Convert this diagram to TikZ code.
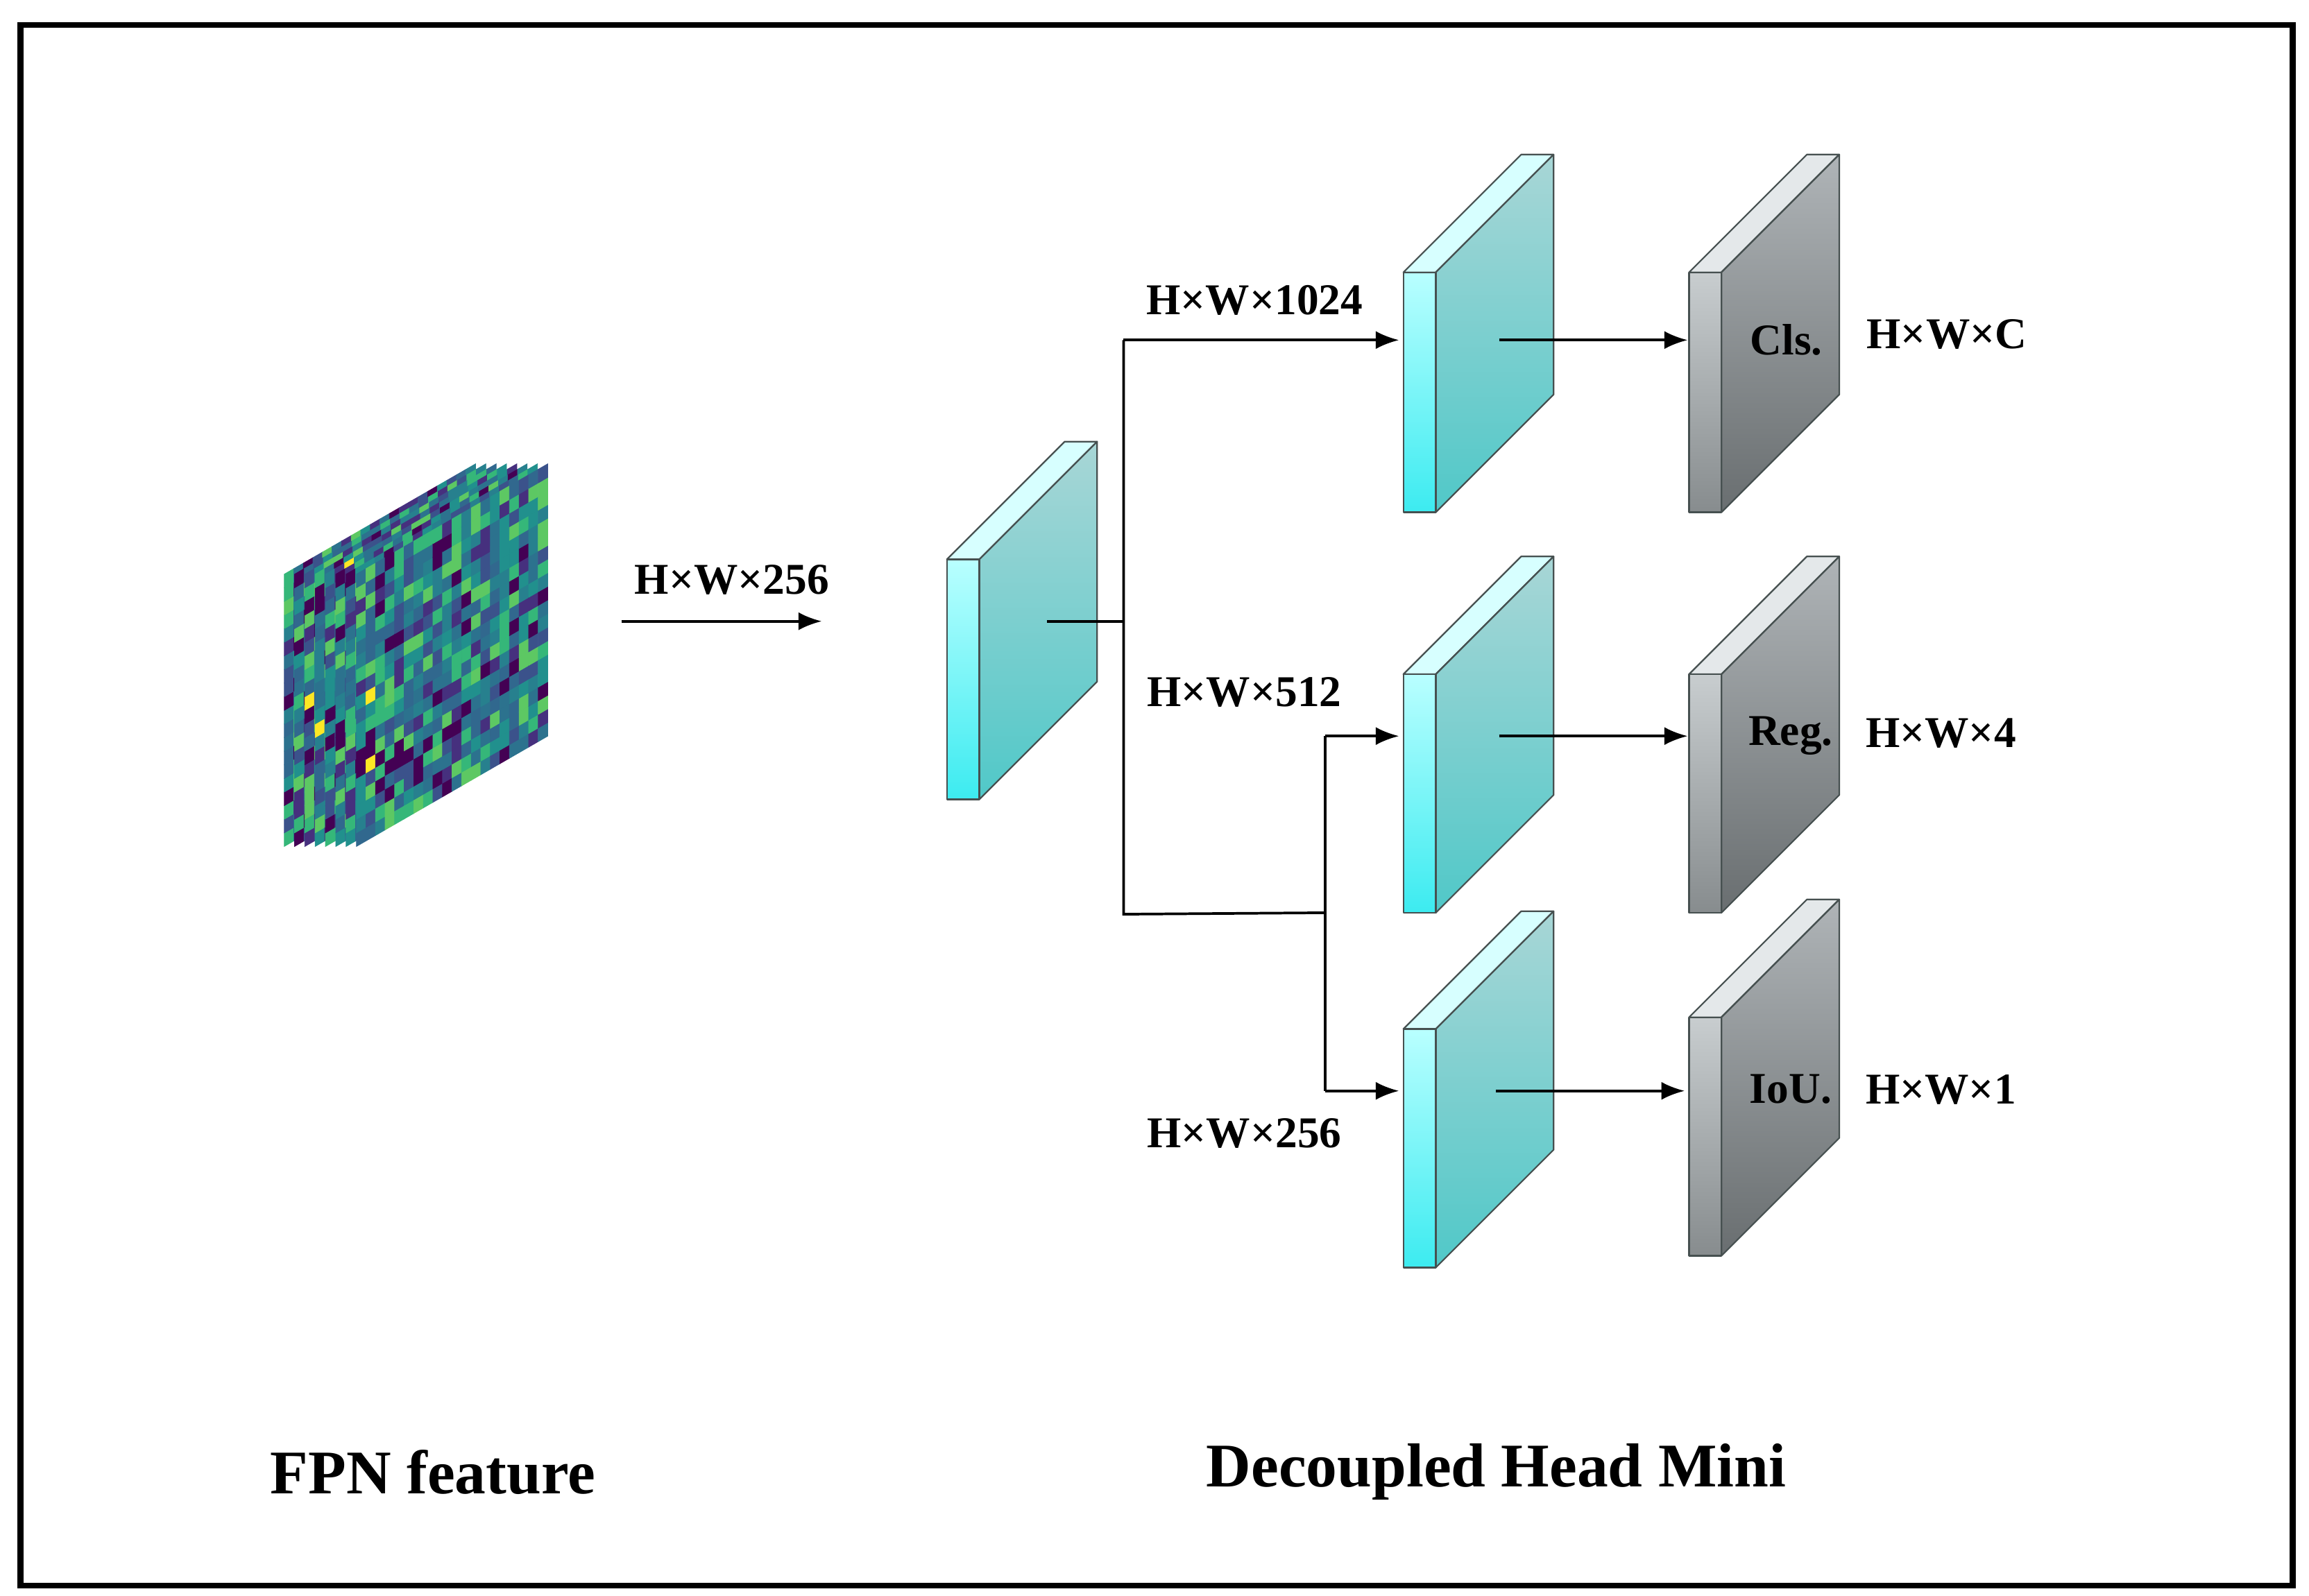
\documentclass[tikz,border=0pt]{standalone}
\usepackage{fontspec}
\setmainfont{Liberation Serif}
\usetikzlibrary{arrows.meta}
\definecolor{vc0}{HTML}{440154}\definecolor{vc1}{HTML}{46307E}
\definecolor{vc2}{HTML}{3B528B}\definecolor{vc3}{HTML}{31688E}
\definecolor{vc4}{HTML}{2C728E}\definecolor{vc5}{HTML}{21908D}
\definecolor{vc6}{HTML}{27808E}\definecolor{vc7}{HTML}{35B779}
\definecolor{vc8}{HTML}{5DC863}\definecolor{vc9}{HTML}{FDE725}
\tikzset{
 lab/.style={font=\fontsize{17}{20}\selectfont\bfseries, inner sep=0pt},
 big/.style={font=\fontsize{24}{28}\selectfont\bfseries, inner sep=0pt},
 con/.style={line width=1pt},
 arr/.style={con,-{Latex[length=9pt,width=7pt]}},
 cytop/.style={fill={rgb,255:red,215;green,255;blue,255}},
 cyside/.style={top color={rgb,255:red,168;green,214;blue,214},bottom color={rgb,255:red,80;green,200;blue,200}},
 cyfront/.style={top color={rgb,255:red,185;green,255;blue,255},bottom color={rgb,255:red,60;green,235;blue,240}},
 gytop/.style={fill={rgb,255:red,228;green,232;blue,234}},
 gyside/.style={top color={rgb,255:red,175;green,180;blue,183},bottom color={rgb,255:red,105;green,110;blue,112}},
 gyfront/.style={top color={rgb,255:red,200;green,205;blue,207},bottom color={rgb,255:red,135;green,140;blue,142}},
 edge/.style={draw={rgb,255:red,70;green,80;blue,80},line width=0.6pt,line join=round}
}
\newcommand\plate[5]{%
 \path[#5top,edge] (#2,#3) -- ++(80,-80) -- ++(22,0) -- ++(-80,80) -- cycle;
 \shade[#5side] (#2+22,#3) -- ++(80,-80) -- (#2+102,#4-80) -- (#2+22,#4) -- cycle;
 \draw[edge] (#2+22,#3) -- ++(80,-80) -- (#2+102,#4-80) -- (#2+22,#4) -- cycle;
 \shade[#5front] (#2,#3) rectangle (#2+22,#4);
 \draw[edge] (#2,#3) rectangle (#2+22,#4);
 \coordinate (#1) at (#2+11,{(#3+#4)/2});
}
\begin{document}
\begin{tikzpicture}[x=0.02cm,y=-0.02cm]
\useasboundingbox (0,0) rectangle (1568,1084);
\draw[line width=0.08cm] (14,17) rectangle (1557,1077);
% FPN feature stack
\pgfmathsetseed{7}
\foreach \k in {0,...,7}{
 \pgfmathsetmacro\xo{193+7*\k}
 \begin{scope}[shift={(\xo,575)}, x={(2.6cm,1.5cm)}, y={(0cm,3.7cm)}]
 \foreach \i in {0,...,19}{\foreach \j in {0,...,19}{
   \pgfmathrandominteger{\r}{0}{9}
   \ifnum\r=9 \pgfmathrandominteger{\r}{0}{9}\fi
   \path[fill=vc\r,draw=vc\r,line width=0.2pt] (\i/20,\j/20) -- ++(0.05,0) -- ++(0,0.05) -- ++(-0.05,0) -- cycle;
 }}
 \end{scope}
}
\coordinate (fa) at (422,422); \coordinate (fb) at (558,422);
\draw[arr] (fa) -- (fb);
\node[lab] (l0) at (497,394) {H×W×256};
% plates
\plate{m}{643}{380}{543}{cy}
\plate{c1}{953}{185}{348}{cy}
\plate{c2}{953}{458}{620}{cy}
\plate{c3}{953}{699}{861}{cy}
\plate{g1}{1147}{185}{348}{gy}
\plate{g2}{1147}{458}{620}{gy}
\plate{g3}{1147}{691}{853}{gy}
% connectors
\coordinate (mo) at (711,422); \coordinate (s) at (763,422);
\coordinate (st) at (763,231); \coordinate (sb) at (763,621);
\coordinate (b) at (900,620); \coordinate (bt) at (900,500); \coordinate (bb) at (900,741);
\coordinate (i1) at (950,231); \coordinate (i2) at (950,500); \coordinate (i3) at (950,741);
\draw[con] (mo) -- (s);
\draw[con] (st) -- (sb) -- (b);
\draw[arr] (st) -- (i1);
\draw[con] (bt) -- (bb);
\draw[arr] (bt) -- (i2);
\draw[arr] (bb) -- (i3);
\coordinate (o1) at (1018,231); \coordinate (e1) at (1146,231);
\coordinate (o2) at (1018,500); \coordinate (e2) at (1146,500);
\coordinate (o3) at (1016,741); \coordinate (e3) at (1144,741);
\draw[arr] (o1) -- (e1); \draw[arr] (o2) -- (e2); \draw[arr] (o3) -- (e3);
\node[lab] (l1) at (852,204) {H×W×1024};
\node[lab] (l2) at (845,470) {H×W×512};
\node[lab] (l3) at (845,770) {H×W×256};
\node[lab] (t1) at (1213,231) {Cls.};
\node[lab] (t2) at (1216,500) {Reg.};
\node[lab] (t3) at (1216,740) {IoU.};
\node[lab] (r1) at (1322,227) {H×W×C};
\node[lab] (r2) at (1318,498) {H×W×4};
\node[lab] (r3) at (1318,740) {H×W×1};
\node[big] (n1) at (294,1000) {FPN feature};
\node[big] (n2) at (1016,1000) {Decoupled Head Mini};
\end{tikzpicture}
\end{document}
